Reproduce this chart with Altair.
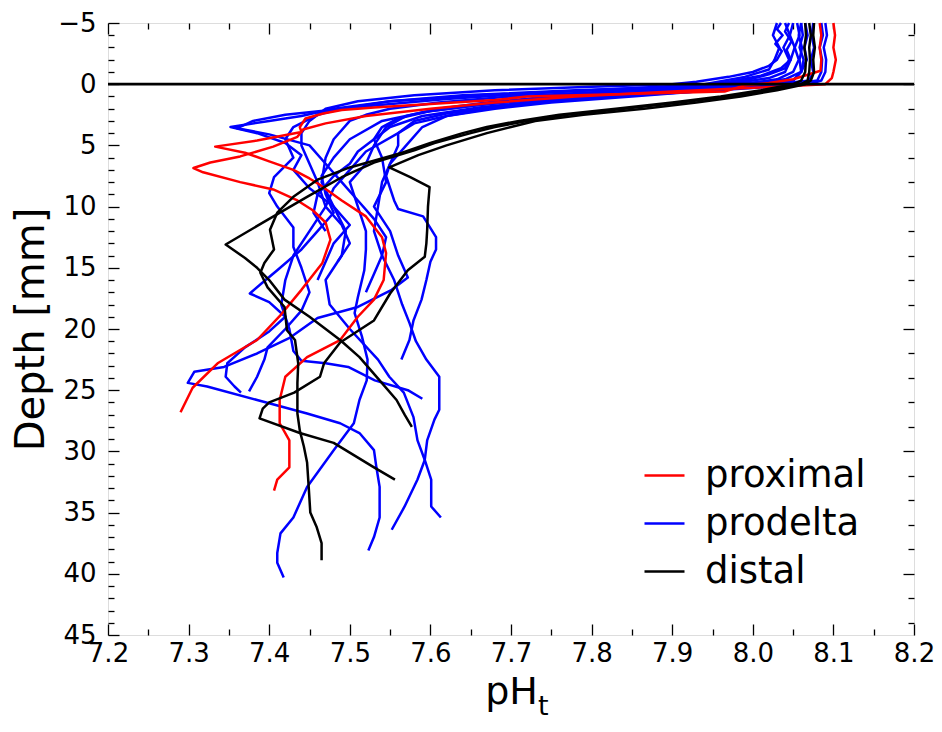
import altair as alt
import pandas as pd

# ---------------- profiles (depth in mm, pH_t) ----------------
# proximal (red)
R1_depth = [-5,-4,-3,-2,-1,-0.5,0,0.3,0.6,1.0,1.5,2.0,2.6,3.2,3.7,4.3,5.1,5.9,6.4,6.85,7.2,8.0,8.6,9.5,10.3,11.3,12.7,14.6,16.8,18.8,20.9,22.8,24.8,26.8]
R1_ph = [8.100,8.102,8.100,8.103,8.100,8.098,8.090,8.000,7.900,7.780,7.680,7.600,7.520,7.470,7.442,7.435,7.405,7.364,7.327,7.306,7.318,7.364,7.405,7.435,7.454,7.470,7.476,7.466,7.440,7.415,7.385,7.336,7.305,7.290]
R2_depth = [-5,-4,-3,-2,-1.1,-0.4,-0.1,0.1,0.6,1.0,1.3,1.9,2.1,2.4,2.8,3.5,3.9,4.6,5.1,5.6,6.3,7.0,7.7,8.1,9.5,10.8,12.5,13.8,16.0,17.6,19.0,20.9,22.3,23.9,25.8,27.7,29.1,31.3,32.3,33.2]
R2_ph = [8.083,8.085,8.083,8.085,8.084,8.050,8.020,7.990,7.965,7.720,7.680,7.530,7.490,7.467,7.445,7.438,7.440,7.385,7.333,7.370,7.400,7.430,7.450,7.460,7.490,7.520,7.540,7.545,7.542,7.530,7.510,7.488,7.447,7.420,7.413,7.413,7.425,7.425,7.410,7.406]

# distal (black)
BA_depth = [-5,-4,-3,-2,-1,-0.3,0,0.5,1.0,1.5,2.0,2.5,3.0,3.5,4.0,4.8,5.4,6.4,7.6,9.2,11.0,13.1,14.2,15.0,16.0,17.6,19.0,20.9,22.3,24.2,25.8,27.0,28.0]
BA_ph = [8.070,8.072,8.070,8.071,8.070,8.068,8.060,8.020,7.970,7.910,7.840,7.770,7.720,7.680,7.650,7.605,7.580,7.530,7.490,7.447,7.400,7.346,7.370,7.385,7.400,7.419,7.450,7.488,7.512,7.537,7.558,7.568,7.577]
BB_depth = [-5,-4,-3,-2,-1,-0.3,0,0.5,1.0,1.5,2.0,2.5,3.0,3.5,4.0,4.8,5.6,6.8,7.8,9.2,10.5,11.9,13.5,14.6,15.4,16.6,18.2,20.1,20.9,22.8,24.4,26.9,28.3,29.6,30.9,32.9,35.0,36.2,37.5,38.9]
BB_ph = [8.065,8.066,8.064,8.066,8.065,8.060,8.050,8.010,7.960,7.900,7.830,7.760,7.710,7.670,7.640,7.600,7.565,7.500,7.460,7.430,7.410,7.401,7.406,7.394,7.389,7.398,7.419,7.422,7.432,7.436,7.435,7.435,7.438,7.443,7.447,7.449,7.451,7.459,7.465,7.465]
BC_depth = [-5,-4,-3,-2,-1,-0.3,0,0.5,1.0,1.5,2.0,2.5,3.0,3.5,4.0,5.0,5.8,6.8,7.6,8.4,10.0,11.9,13.0,14.1,15.2,17.1,19.3,21.1,22.8,23.9,25.2,26.0,26.5,27.3,28.5,29.3,31.3,32.3]
BC_ph = [8.076,8.075,8.077,8.075,8.076,8.072,8.065,8.030,7.985,7.930,7.865,7.790,7.730,7.700,7.670,7.620,7.585,7.549,7.575,7.599,7.597,7.596,7.595,7.593,7.572,7.550,7.530,7.488,7.468,7.463,7.431,7.400,7.392,7.388,7.438,7.480,7.530,7.556]

# prodelta (blue)
U1_depth = [-5,-4.3,-3.5,-2.8,-2,-1.3,-0.7,-0.2,0,0.3,0.6,1.0,1.5,2.0,2.6,3.5,5.0,6.5,8.0,10.0,12.0,13.5,15.2,17.4,18.7,20.6,22.5,24.2,25.8,27.7,29.9,32.9,35.4,36.7,38.3,39.1,40.3]
U1_ph = [8.045,8.040,8.048,8.042,8.047,8.035,8.010,7.970,7.950,7.900,7.830,7.750,7.670,7.610,7.570,7.545,7.530,7.520,7.500,7.510,7.520,7.520,7.518,7.510,7.506,7.515,7.522,7.521,7.512,7.505,7.480,7.447,7.430,7.414,7.410,7.410,7.418]
U2_depth = [-5,-4,-3,-2,-1,-0.4,0,0.4,0.8,1.2,1.7,2.2,2.8,3.5,4.5,6.0,8.0,10.0,12.0,14.0,15.8,16.8,18.2,19.1,20.7,22.0,23.1,23.5,24.4,24.7,25.8,26.9,27.7,28.5,29.9,31.3,32.9,35.4,37.0,38.1]
U2_ph = [8.055,8.058,8.052,8.057,8.050,8.030,7.990,7.920,7.820,7.740,7.660,7.600,7.560,7.540,7.530,7.540,7.545,7.530,7.550,7.560,7.572,7.552,7.510,7.460,7.426,7.385,7.344,7.307,7.299,7.323,7.385,7.447,7.488,7.512,7.530,7.533,7.537,7.537,7.530,7.523]
U3_depth = [-5,-4,-3,-2,-1,-0.3,0,0.4,0.8,1.3,1.8,2.4,3.0,4.0,5.0,6.5,8.0,10.0,12.0,14.0,16.0,18.0,19.5,21.0,22.5,23.9,26.6,27.4,29.1,30.7,32.3,34.5,36.4]
U3_ph = [8.090,8.092,8.088,8.091,8.090,8.085,8.070,7.980,7.880,7.770,7.690,7.620,7.580,7.560,7.560,7.550,7.540,7.535,7.530,7.540,7.555,7.565,7.574,7.582,7.595,7.611,7.611,7.605,7.596,7.593,7.584,7.568,7.552]
U4_depth = [-5,-4,-3,-2,-1,-0.4,0,0.3,0.6,1.0,1.5,2.0,2.5,3.0,4.5,6.0,8.0,10.0,12.0,14.0,16.0,18.0,20.0,22.5,23.9,25.2,27.2,29.1,30.7,32.3,34.5,35.4]
U4_ph = [8.060,8.062,8.058,8.063,8.060,8.040,7.980,7.920,7.820,7.700,7.610,7.550,7.520,7.500,7.480,7.470,7.465,7.480,7.495,7.490,7.470,7.475,7.500,7.535,7.549,7.567,7.579,7.584,7.593,7.601,7.601,7.613]
U5_depth = [-5,-4,-3,-2,-1,-0.3,0,0.4,0.8,1.3,1.9,2.6,3.5,5.0,6.5,7.5,8.5,9.5,10.2,10.8,12.5,13.5,14.5,16.0,17.6,19.3,20.9,22.5]
U5_ph = [8.085,8.087,8.083,8.086,8.085,8.080,8.050,7.960,7.860,7.760,7.680,7.620,7.590,7.570,7.550,7.545,7.550,7.555,7.560,7.591,7.607,7.607,7.600,7.595,7.589,7.579,7.574,7.564]
U6_depth = [-5,-4.5,-4,-3.3,-2.7,-2,-1.5,-1,-0.6,-0.2,0,0.2,0.5,0.9,1.4,2.0,3.0,4.0,5.0,6.5,8.0,10.0,12.0,14.0,16.0,18.0,20.0,21.8,22.6,22.8,23.1,24.2,25.0,25.7]
U6_ph = [8.035,8.030,8.037,8.028,8.036,8.030,8.020,8.000,7.970,7.930,7.900,7.800,7.680,7.580,7.510,7.470,7.450,7.440,7.440,7.450,7.460,7.470,7.450,7.430,7.420,7.415,7.425,7.430,7.440,7.470,7.498,7.531,7.572,7.590]
U7_depth = [-5,-4,-3,-2,-1,-0.5,0,0.2,0.5,0.9,1.4,2.0,2.5,3.5,4.5,6.0,7.6,8.9,10.0,11.7,13.3,15.0,17.0,18.5,20.0,21.5,22.5,23.9,25.1]
U7_ph = [8.050,8.046,8.052,8.047,8.040,8.020,7.970,7.910,7.780,7.640,7.550,7.490,7.460,7.430,7.420,7.430,7.406,7.400,7.410,7.430,7.430,7.440,7.450,7.440,7.420,7.398,7.394,7.385,7.375]
U8_depth = [-5,-4,-3,-2,-1,-0.3,0,0.4,0.8,1.2,1.7,2.3,3.0,4.5,6.0,7.5,9.0,10.5,12.0,13.5,15.2,16.3,17.1,17.8,19.0,20.2,21.5,22.8,23.9,24.7,25.2]
U8_ph = [8.065,8.068,8.064,8.067,8.060,8.050,8.000,7.930,7.830,7.740,7.660,7.590,7.540,7.500,7.480,7.465,7.470,7.480,7.460,7.440,7.410,7.390,7.376,7.400,7.420,7.400,7.370,7.348,7.346,7.357,7.365]
U9_depth = [-5,-4,-3,-2,-1.3,-0.8,-0.3,0,0.2,0.5,0.9,1.4,2.0,2.6,3.0,3.5,4.0,4.8,5.8,7.0,8.5,10.0,11.5,13.0,14.5,16.0]
U9_ph = [8.040,8.046,8.038,8.045,8.040,8.020,7.990,7.960,7.920,7.800,7.660,7.550,7.480,7.440,7.400,7.352,7.385,7.420,7.440,7.430,7.450,7.480,7.500,7.480,7.470,7.460]
U10_depth = [-5,-4,-3,-2,-1,-0.3,0,0.5,1.0,1.5,2.0,2.6,3.2,4.0,5.5,7.0,8.5,10.0,11.5,13.0,14.5]
U10_ph = [8.075,8.073,8.076,8.072,8.075,8.070,8.030,7.950,7.850,7.750,7.680,7.620,7.580,7.560,7.520,7.500,7.480,7.470,7.490,7.500,7.485]
U11_depth = [-5,-4,-3,-2,-1.2,-0.6,0,0.3,0.7,1.2,1.8,2.5,3.0,3.6,4.1,5.0,6.5,8.0,9.5,11.0,12.5,14.0,15.5,17.0]
U11_ph = [8.030,8.025,8.033,8.027,8.020,7.990,7.940,7.860,7.740,7.620,7.520,7.420,7.380,7.360,7.400,7.450,7.470,7.490,7.510,7.530,7.545,7.540,7.530,7.520]
U12_depth = [-5,-4,-3,-2,-1,-0.3,0,0.4,0.8,1.3,1.9,2.6,3.5,4.5,5.5,6.5,7.5,9.0,10.5,12.0]
U12_ph = [8.060,8.057,8.061,8.058,8.060,8.050,8.010,7.940,7.850,7.750,7.660,7.590,7.550,7.530,7.510,7.500,7.480,7.460,7.455,7.470]

GROUPS = ["proximal", "prodelta", "distal"]
COLORS = ["#ff0000", "#0000ff", "#000000"]

# axis tick values
X_MAJOR = [7.2, 7.3, 7.4, 7.5, 7.6, 7.7, 7.8, 7.9, 8.0, 8.1, 8.2]
X_MINOR = [7.25, 7.35, 7.45, 7.55, 7.65, 7.75, 7.85, 7.95, 8.05, 8.15]
X_TOP_MAJOR = [7.2, 7.4, 7.6, 7.8, 8.0, 8.2]
X_TOP_MINOR = [7.25, 7.3, 7.35, 7.45, 7.5, 7.55, 7.65, 7.7, 7.75, 7.85, 7.9, 7.95, 8.05, 8.1, 8.15]
Y_MAJOR = [-5, 0, 5, 10, 15, 20, 25, 30, 35, 40, 45]
Y_MINOR = [v for v in range(-5, 46) if v % 5 != 0]
Y_RIGHT_MAJOR = [0, 10, 20, 30, 40]
Y_RIGHT_MINOR = [v for v in range(-4, 46, 2) if v % 10 != 0]

profiles = [
    ("prodelta", "U1", U1_depth, U1_ph), ("prodelta", "U2", U2_depth, U2_ph),
    ("prodelta", "U3", U3_depth, U3_ph), ("prodelta", "U4", U4_depth, U4_ph),
    ("prodelta", "U5", U5_depth, U5_ph), ("prodelta", "U6", U6_depth, U6_ph),
    ("prodelta", "U7", U7_depth, U7_ph), ("prodelta", "U8", U8_depth, U8_ph),
    ("prodelta", "U9", U9_depth, U9_ph), ("prodelta", "U10", U10_depth, U10_ph),
    ("prodelta", "U11", U11_depth, U11_ph), ("prodelta", "U12", U12_depth, U12_ph),
    ("proximal", "R1", R1_depth, R1_ph), ("proximal", "R2", R2_depth, R2_ph),
    ("distal", "BA", BA_depth, BA_ph), ("distal", "BB", BB_depth, BB_ph),
    ("distal", "BC", BC_depth, BC_ph),
]

rows = []
for grp, pid, ds, ps in profiles:
    if len(ds) != len(ps):
        raise ValueError(f"length mismatch in {pid}: {len(ds)} vs {len(ps)}")
    for i, (d, p) in enumerate(zip(ds, ps)):
        rows.append({"group": grp, "id": pid, "i": i, "depth": d, "ph": p})
df = pd.DataFrame(rows)

FONT = "DejaVu Sans"
W, H = 806, 612
xscale = alt.Scale(domain=[7.2, 8.2], nice=False, zero=False)
yscale = alt.Scale(domain=[-5, 45], reverse=True, nice=False, zero=False)
cscale = alt.Scale(domain=GROUPS, range=COLORS)

legend = alt.Legend(
    title=None, orient="none", legendX=535, legendY=431,
    symbolType="stroke", symbolSize=1600, symbolStrokeWidth=2.6,
    labelFont=FONT, labelFontSize=37, labelColor="black", labelOffset=19,
    labelLimit=400, rowPadding=8, padding=0,
)

x_main = alt.Axis(orient="bottom", values=X_MAJOR, format=".1f", ticks=False, domain=False,
                  grid=False, labelFont=FONT, labelFontSize=26, labelColor="black",
                  labelPadding=5, labelFlush=False, labelOverlap=False,
                  title="pH", titleFont=FONT, titleFontSize=38, titleFontWeight="normal",
                  titleColor="black", titlePadding=7)
y_main = alt.Axis(orient="left", values=Y_MAJOR, format="d", ticks=False, domain=False,
                  grid=False, labelFont=FONT, labelFontSize=26, labelColor="black",
                  labelPadding=12, labelFlush=False, labelOverlap=False,
                  title="Depth [mm]", titleFont=FONT, titleFontSize=40, titleFontWeight="normal",
                  titleColor="black", titlePadding=6)


def line_layer(group, with_axes):
    sub = df[df["group"] == group]
    xa = x_main if with_axes else None
    ya = y_main if with_axes else None
    return alt.Chart(sub).mark_line(strokeWidth=2.5, strokeJoin="round").encode(
        x=alt.X("ph:Q", scale=xscale, axis=xa),
        y=alt.Y("depth:Q", scale=yscale, axis=ya),
        color=alt.Color("group:N", scale=cscale, legend=legend),
        detail="id:N",
        order="i:Q",
    )


def tick_axis(orient, values, size):
    return alt.Axis(orient=orient, values=values, labels=False, domain=False, grid=False,
                    ticks=True, tickSize=size, offset=-size, tickColor="black",
                    tickWidth=1.3, title=None)


dummy = pd.DataFrame({"ph": [7.7], "depth": [20]})


def tick_layer(xo, xv, xs, yo, yv, ys):
    return alt.Chart(dummy).mark_point(opacity=0).encode(
        x=alt.X("ph:Q", scale=xscale, axis=tick_axis(xo, xv, xs)),
        y=alt.Y("depth:Q", scale=yscale, axis=tick_axis(yo, yv, ys)),
    )


zero_df = pd.DataFrame({"depth": [0]})
zero_rule = alt.Chart(zero_df).mark_rule(color="black", strokeWidth=2.8).encode(
    y=alt.Y("depth:Q", scale=yscale, axis=None)
)

# subscript "t" of the x-axis title pH_t
sub_t = alt.Chart(pd.DataFrame({"s": ["t"]})).mark_text(
    text="t", font=FONT, fontSize=27, align="left", baseline="alphabetic", color="black"
).encode(x=alt.value(430), y=alt.value(692))

chart = alt.layer(
    line_layer("prodelta", True),
    line_layer("proximal", False),
    line_layer("distal", False),
    zero_rule,
    tick_layer("bottom", X_MAJOR, 11, "left", Y_MAJOR, 11),
    tick_layer("bottom", X_MINOR, 6, "left", Y_MINOR, 6),
    tick_layer("top", X_TOP_MAJOR, 11, "right", Y_RIGHT_MAJOR, 11),
    tick_layer("top", X_TOP_MINOR, 6, "right", Y_RIGHT_MINOR, 6),
    sub_t,
).resolve_axis(x="independent", y="independent").properties(
    width=W, height=H,
    autosize=alt.AutoSizeParams(type="none"),
    padding={"left": 100, "top": 15, "right": 20, "bottom": 88},
).configure_view(stroke="black", strokeWidth=1.5).configure(background="white")

chart.save("out.html", embed_options={"renderer": "svg", "actions": False})
